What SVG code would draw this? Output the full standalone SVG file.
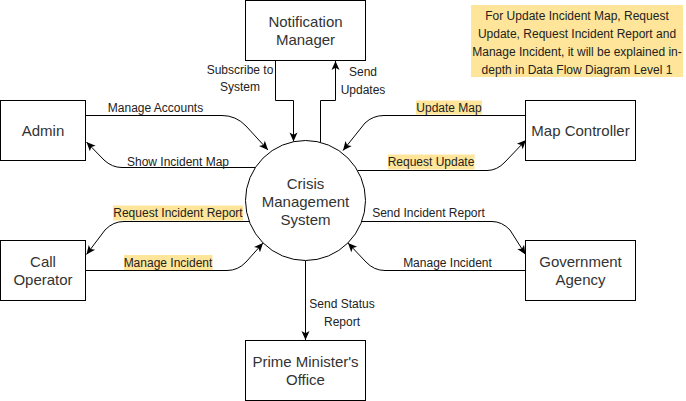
<svg xmlns="http://www.w3.org/2000/svg" width="686" height="401" viewBox="0 0 686 401">
<defs>
<marker id="arr" markerUnits="userSpaceOnUse" markerWidth="12" markerHeight="10" refX="9" refY="4" orient="auto" overflow="visible">
<path d="M0,0 L9,4 L0,8 L2.2,4 z" fill="#000"/>
</marker>
<style>
.box{fill:#fff;stroke:#000;stroke-width:1}
.nt{font-family:"Liberation Sans",Arial,sans-serif;font-size:15px;fill:#333;text-anchor:middle}
.lt{font-family:"Liberation Sans",Arial,sans-serif;font-size:12px;fill:#222;text-anchor:middle}
.hl{fill:#FFE599;stroke:none}
.edge{fill:none;stroke:#000;stroke-width:1;marker-end:url(#arr)}
</style>
</defs>
<rect width="686" height="401" fill="#fff"/>

<g id="note">
<rect class="hl" x="471" y="5" width="212" height="72"/>
<text class="lt" x="577" y="19.5">For Update Incident Map, Request</text>
<text class="lt" x="577" y="37.5">Update, Request Incident Report and</text>
<text class="lt" x="577" y="55.5">Manage Incident, it will be explained in-</text>
<text class="lt" x="577" y="73.5">depth in Data Flow Diagram Level 1</text>
</g>

<g id="connectors">
<path class="edge" d="M275.5,60.5 V100.5 H293.5 V141.5"/>
<path class="edge" d="M320.5,142.4 V100.5 H335.5 V61"/>
<path class="edge" d="M85.5,115.5 H222 Q236,115.5 246,126 L268,150"/>
<path class="edge" d="M255.4,167.5 H122 Q112,167.5 104,160 L86.5,142"/>
<path class="edge" d="M249.3,221.5 H124 Q113,221.5 105,230 L86.5,254.5"/>
<path class="edge" d="M85.5,270.5 H227 Q238,270.5 246,262 L263,243"/>
<path class="edge" d="M525.5,115.5 H384 Q373,115.5 365,123 L343,150.5"/>
<path class="edge" d="M357.5,170.5 H487 Q497,170.5 505,162 L526,140"/>
<path class="edge" d="M361.7,221.5 H492 Q502,221.5 510,230 L525.5,254.5"/>
<path class="edge" d="M525.5,270.5 H385 Q374,270.5 366,262 L348,243"/>
<path class="edge" d="M305.5,260.5 V340"/>

<text class="lt" x="240" y="74">Subscribe to</text>
<text class="lt" x="240" y="91">System</text>
<text class="lt" x="363" y="76">Send</text>
<text class="lt" x="363" y="94">Updates</text>
<text class="lt" x="155.5" y="112">Manage Accounts</text>
<text class="lt" x="178" y="165.5">Show Incident Map</text>
<rect class="hl" x="113" y="205.5" width="130" height="15"/>
<text class="lt" x="178" y="216.5">Request Incident Report</text>
<rect class="hl" x="124" y="255" width="88.5" height="15"/>
<text class="lt" x="168" y="266.5">Manage Incident</text>
<rect class="hl" x="416" y="100.5" width="66" height="14"/>
<text class="lt" x="449" y="111.5">Update Map</text>
<rect class="hl" x="388" y="154.5" width="86.5" height="15"/>
<text class="lt" x="431" y="165.5">Request Update</text>
<text class="lt" x="428.5" y="217">Send Incident Report</text>
<text class="lt" x="447.5" y="267">Manage Incident</text>
<text class="lt" x="342" y="308">Send Status</text>
<text class="lt" x="342" y="326">Report</text>
</g>

<g id="notification-manager">
<rect class="box" x="245.5" y="0.5" width="120" height="60"/>
<text class="nt" x="305.5" y="27">Notification</text>
<text class="nt" x="305.5" y="45">Manager</text>
</g>
<g id="admin">
<rect class="box" x="0.5" y="100.5" width="85" height="60"/>
<text class="nt" x="43" y="135.5">Admin</text>
</g>
<g id="call-operator">
<rect class="box" x="0.5" y="240.5" width="85" height="60"/>
<text class="nt" x="43" y="266.5">Call</text>
<text class="nt" x="43" y="284.5">Operator</text>
</g>
<g id="map-controller">
<rect class="box" x="525.5" y="100.5" width="110" height="60"/>
<text class="nt" x="580.5" y="135.5">Map Controller</text>
</g>
<g id="government-agency">
<rect class="box" x="525.5" y="240.5" width="110" height="60"/>
<text class="nt" x="580.5" y="266.5">Government</text>
<text class="nt" x="580.5" y="284.5">Agency</text>
</g>
<g id="crisis-management-system">
<circle class="box" cx="305.5" cy="200.5" r="60"/>
<text class="nt" x="305.5" y="188.5">Crisis</text>
<text class="nt" x="305.5" y="206.5">Management</text>
<text class="nt" x="305.5" y="224.5">System</text>
</g>
<g id="prime-ministers-office">
<rect class="box" x="245.5" y="340.5" width="120" height="60"/>
<text class="nt" x="305.5" y="366.5">Prime Minister's</text>
<text class="nt" x="305.5" y="384.5">Office</text>
</g>
</svg>
